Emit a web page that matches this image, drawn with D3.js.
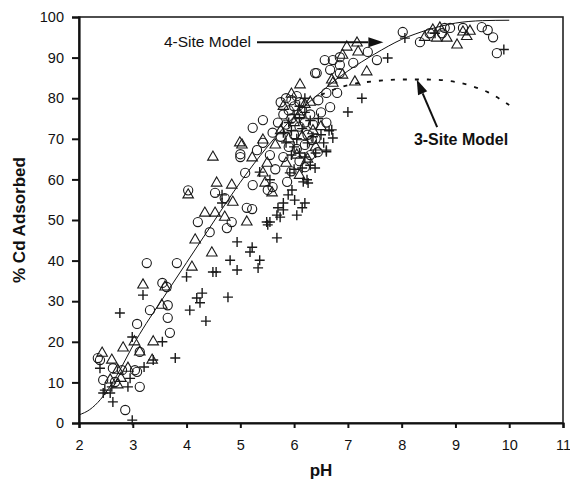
<!DOCTYPE html>
<html>
<head>
<meta charset="utf-8">
<script src="https://cdn.jsdelivr.net/npm/d3@7"></script>
<style>
  body { margin: 0; background: #fff; }
  svg text { font-family: "Liberation Sans", Arial, sans-serif; fill: #111; }
</style>
</head>
<body>
<div id="chart"></div>
<script>
// data: [pH, % Cd adsorbed]
const circleData = [
  [2.35,16],[2.39,15.5],[2.45,10.6],[2.63,13.5],[2.8,13],[2.67,10.1],[3.04,13],[3.08,12.6],[3.13,8.9],[2.86,3.2],
  [3.13,17.5],[3.08,24.4],[3.32,27.8],[3.65,29],[3.65,25.9],[3.69,22.2],[3.26,39.4],[3.82,39.4],[3.55,34.5],[3.63,33.5],
  [4.03,57.3],[4.53,56.7],[4.71,55.4],[4.21,49.5],[4.43,47],[4.75,48],[4.84,49.5],[5.12,53],[5.23,58.6],[5.51,57.4],
  [5.0,65.5],[5.22,52.7],[5.6,58.1],[5.87,59.4],[5.09,61.6],[5.31,67.2],[5.42,69],[5.23,72.7],[5.42,74.6],[5.0,66.2],
  [5.75,79],[5.85,80],[5.95,79.5],[6.0,78],[5.9,77],[5.8,76],[6.05,80.5],[6.1,79],[5.7,74],[5.85,73.5],
  [5.95,75],[6.15,77],[6.2,74],[6.3,76],[5.6,71.5],[5.75,70.5],[6.0,71],[6.1,73],[6.25,71],[6.35,73.5],
  [5.9,68],[6.05,67.5],[6.2,68.5],[6.4,70],[5.55,66],[5.8,65.5],[6.1,64.5],[6.3,66],[6.5,76.5],[6.45,79.5],
  [5.65,62.5],[5.95,62],[6.2,63],[6.6,74],[6.67,77.8],[6.44,66.7],[6.6,81.3],[6.42,86.2],[6.67,87],[6.85,88.2],
  [7.1,88.7],[6.85,90.1],[6.72,89.4],[6.57,89.4],[7.37,91.4],[7.54,89.4],[6.39,86.2],[6.85,86.2],[6.8,81.3],[6.33,69.7],
  [8.02,96.3],[8.34,93.8],[8.52,96],[8.75,96],[8.8,97.3],[8.9,97.3],[9.14,97.3],[9.49,97.5],[9.6,96.8],[9.7,95],[9.77,91.1]
];
const triangleData = [
  [2.43,17.2],[2.61,15.5],[2.72,13],[2.91,13.5],[2.58,10.6],[2.72,9.4],[2.78,11],[3.03,20],[2.82,18.5],[3.38,20],
  [3.13,17.5],[3.36,15.5],[3.19,34],[3.6,33.5],[3.54,29],
  [4.03,56.2],[4.56,59.1],[4.84,58.6],[4.86,54.4],[4.34,51.7],[4.53,51.7],[4.71,50.7],[4.16,45.1],[4.47,41.9],[5.12,49.5],
  [5.46,59.1],[4.1,38.4],[4.49,65.5],[5.03,68.5],[5.22,65.3],[5.59,56.7],[4.99,69],[5.42,69.7],[5.42,61.6],
  [5.8,78],[5.95,81],[6.1,76],[6.0,74],[5.75,72],[6.2,78.5],[5.9,70],[6.15,70.5],[6.35,72],[5.65,68.5],
  [6.05,66],[6.25,65],[5.85,64],[6.4,68],[5.5,64],[6.3,79],[6.5,73],[6.1,61],
  [6.11,83.3],[6.72,83.7],[6.9,85.7],[7.13,84],[7.17,93.6],[6.98,92.6],[7.19,91.4],[6.9,90.6],[7.35,86.5],[6.7,84.5],
  [8.43,95],[8.58,96.8],[8.71,97.3],[8.84,94.8],[8.65,94.8],[9.03,93.1],[9.21,95.2],[9.14,96.3],[9.27,96.5]
];
const plusData = [
  [2.76,27.1],[2.99,21.2],[3.55,20],[3.79,16],[3.21,13.8],[2.39,13.5],[2.61,8.9],[2.91,8.9],[2.95,11],[2.48,8.1],
  [2.45,7.4],[2.58,7.4],[2.63,5.2],[2.99,0.7],[3.19,31.5],[3.38,15.5],[4.06,27.8],[4.25,29.6],[4.36,25.1],[4.19,30.8],
  [4.29,32],[4.77,31],[4.0,36],
  [4.66,56.2],[4.66,54.2],[5.49,49.5],[4.94,44.6],[5.22,43.3],[5.18,42.1],[4.81,40.1],[4.94,37.7],[5.36,40.1],[5.33,38.2],
  [4.49,37.2],[4.55,37.2],[5.55,49.5],[5.68,45.6],[5.55,59.9],[5.92,61.6],[6.24,59.9],[5.36,61.8],
  [6.2,54.2],[6.15,53],[6.05,51.2],[5.8,54.2],[5.8,52.5],[5.74,50.7],[5.89,56.2],[5.96,57.4],[5.7,53],[6.01,54.9],
  [5.68,51.2],[5.51,48.8],[6.17,59.4],[6.26,59.1],[6.15,62.8],[6.39,62.8],[6.6,66.8],
  [5.9,74],[6.0,76],[6.1,75],[6.2,76.5],[5.95,72],[6.05,70],[6.15,72.5],[6.3,74.5],[6.25,69],[6.35,70.5],
  [6.0,68],[6.1,66.5],[6.2,65.5],[6.3,63.5],[5.85,69],[5.95,66],[6.4,66.5],[6.45,75],[6.5,71],[6.55,69],
  [6.65,72],[6.1,78],[5.8,71.5],[6.2,80],[6.0,62.5],
  [7.0,76.6],[6.7,72.2],[6.72,70.2],[6.6,67.2],[7.26,80],[7.74,89.9],[8.06,94.8],[8.62,96],[9.9,92]
];
// model curves
const fourSiteModel = [
  [2.0,2],[2.2,3.3],[2.4,5.8],[2.6,9.5],[2.8,14],[3.0,19],[3.25,24.5],[3.5,29.5],[3.75,34.5],[4.0,39.5],
  [4.25,44.5],[4.5,49.5],[4.75,54.5],[5.0,59.3],[5.25,63.8],[5.5,68],[5.75,71.9],[6.0,75.5],[6.25,78.7],[6.5,81.5],
  [6.75,84.3],[7.0,86.7],[7.25,88.9],[7.5,90.9],[7.75,92.8],[8.0,94.5],[8.25,95.8],[8.5,96.9],[8.75,97.8],[9.0,98.5],
  [9.25,98.9],[9.5,99.1],[10.0,99.2]
];
const threeSiteModel = [
  [6.5,80.8],[6.75,82.2],[7.0,83.2],[7.5,84.2],[8.0,84.6],[8.5,84.6],[9.0,84],[9.3,83],[9.6,81.5],[10.0,78.3]
];
const xTicks = [2,3,4,5,6,7,8,9,10,11];
const yTicks = [0,10,20,30,40,50,60,70,80,90,100];

const width = 570, height = 483;
const margin = {left: 79, right: 7, top: 17, bottom: 60};

const svg = d3.select("#chart").append("svg")
    .attr("width", width)
    .attr("height", height);

const x = d3.scaleLinear().domain([2, 11]).range([margin.left, width - margin.right]);
const y = d3.scaleLinear().domain([0, 100]).range([height - margin.bottom, margin.top]);

// frame (top and right)
svg.append("rect")
    .attr("x", x(2)).attr("y", y(100))
    .attr("width", x(11) - x(2)).attr("height", y(0) - y(100))
    .attr("fill", "none").attr("stroke", "#222").attr("stroke-width", 1.6);

// axes
const xAxis = svg.append("g")
    .attr("transform", `translate(0,${y(0)})`)
    .call(d3.axisBottom(x).tickValues(xTicks).tickSize(5).tickPadding(12).tickFormat(d3.format("d")));
const yAxis = svg.append("g")
    .attr("transform", `translate(${x(2)},0)`)
    .call(d3.axisLeft(y).tickValues(yTicks).tickSize(7).tickPadding(8).tickFormat(d3.format("d")));

[xAxis, yAxis].forEach(a => {
  a.select(".domain").attr("stroke", "#111").attr("stroke-width", 2.2);
  a.selectAll(".tick line").attr("stroke", "#111").attr("stroke-width", 2);
  a.selectAll(".tick text").attr("font-size", 14.5).attr("fill", "#222")
    .style("font-family", "'Liberation Sans', Arial, sans-serif");
});

// axis titles
svg.append("text")
    .attr("x", (x(2) + x(11)) / 2).attr("y", 476)
    .attr("text-anchor", "middle")
    .attr("font-size", 17).attr("font-weight", "bold")
    .text("pH");
svg.append("text")
    .attr("transform", `translate(25,${(y(0) + y(100)) / 2}) rotate(-90)`)
    .attr("text-anchor", "middle")
    .attr("font-size", 17).attr("font-weight", "bold")
    .text("% Cd Adsorbed");

// model lines
const line = d3.line()
    .x(d => x(d[0]))
    .y(d => y(d[1]))
    .curve(d3.curveMonotoneX);

svg.append("path")
    .datum(fourSiteModel)
    .attr("d", line)
    .attr("fill", "none").attr("stroke", "#111").attr("stroke-width", 1);

svg.append("path")
    .datum(threeSiteModel)
    .attr("d", line)
    .attr("fill", "none").attr("stroke", "#111").attr("stroke-width", 1.8)
    .attr("stroke-dasharray", "4,8");

// markers
const stroke = "#1a1a1a";
svg.append("g").selectAll("circle")
  .data(circleData)
  .join("circle")
    .attr("cx", d => x(d[0]))
    .attr("cy", d => y(d[1]))
    .attr("r", 4.6)
    .attr("fill", "none").attr("stroke", stroke).attr("stroke-width", 1.1);

const tri = d3.symbol().type(d3.symbolTriangle).size(48);
svg.append("g").selectAll("path")
  .data(triangleData)
  .join("path")
    .attr("d", tri)
    .attr("transform", d => `translate(${x(d[0])},${y(d[1])})`)
    .attr("fill", "none").attr("stroke", stroke).attr("stroke-width", 1.1);

svg.append("g").selectAll("path")
  .data(plusData)
  .join("path")
    .attr("d", "M-5,0H5M0,-5V5")
    .attr("transform", d => `translate(${x(d[0])},${y(d[1])})`)
    .attr("fill", "none").attr("stroke", stroke).attr("stroke-width", 1.4);

// annotations
function arrow(x1, y1, x2, y2) {
  const ang = Math.atan2(y2 - y1, x2 - x1);
  const len = 15, half = 5;
  const bx = x2 - len * Math.cos(ang), by = y2 - len * Math.sin(ang);
  svg.append("line")
      .attr("x1", x1).attr("y1", y1).attr("x2", bx).attr("y2", by)
      .attr("stroke", "#111").attr("stroke-width", 2);
  const px = -Math.sin(ang) * half, py = Math.cos(ang) * half;
  svg.append("path")
      .attr("d", `M${x2},${y2}L${bx + px},${by + py}L${bx - px},${by - py}Z`)
      .attr("fill", "#111");
}

arrow(x(5.31), y(93.8), x(7.66), y(93.8));
svg.append("text")
    .attr("x", x(5.31) - 6).attr("y", y(93.8) + 5)
    .attr("text-anchor", "end")
    .attr("font-size", 15.5)
    .text("4-Site Model");

arrow(x(8.66), y(72.9), x(8.28), y(84.6));
svg.append("text")
    .attr("x", 461).attr("y", 145)
    .attr("text-anchor", "middle")
    .attr("font-size", 16).attr("font-weight", "bold")
    .text("3-Site Model");
</script>
</body>
</html>
